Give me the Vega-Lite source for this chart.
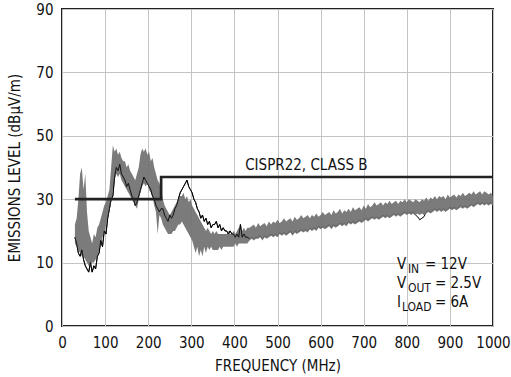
{
  "$schema": "https://vega.github.io/schema/vega-lite/v6.json",
  "width": 431,
  "height": 317,
  "autosize": {"type": "none"},
  "padding": {"left": 62, "top": 9, "right": 18, "bottom": 51},
  "background": "white",
  "config": {
    "view": {"stroke": "#222", "strokeWidth": 2},
    "font": "DejaVu Sans Condensed",
    "axis": {"labelFont": "DejaVu Sans Condensed", "titleFont": "DejaVu Sans Condensed", "labelFontSize": 15, "titleFontSize": 15, "titleFontWeight": "normal", "labelColor": "#111", "titleColor": "#111", "gridColor": "#c4c4c4", "gridWidth": 1, "gridOpacity": 1, "tickSize": 0, "domain": false}
  },
  "datasets": {
    "em": [
      {"f":30,"lo":16,"hi":22,"b":18},{"f":34,"lo":15,"hi":24,"b":16},{"f":38,"lo":14,"hi":30,"b":13},{"f":42,"lo":13,"hi":38,"b":12},
      {"f":46,"lo":12,"hi":40,"b":14},{"f":50,"lo":12,"hi":33,"b":11},{"f":54,"lo":11,"hi":38,"b":9},{"f":58,"lo":10,"hi":26,"b":8},
      {"f":62,"lo":9,"hi":20,"b":7},{"f":66,"lo":9,"hi":18,"b":10},{"f":70,"lo":10,"hi":16,"b":7},{"f":74,"lo":10,"hi":19,"b":9},
      {"f":78,"lo":11,"hi":18,"b":8},{"f":82,"lo":12,"hi":21,"b":12},{"f":86,"lo":14,"hi":22,"b":13},{"f":90,"lo":16,"hi":24,"b":17},
      {"f":94,"lo":18,"hi":26,"b":15},{"f":98,"lo":19,"hi":28,"b":20},{"f":102,"lo":22,"hi":29,"b":19},{"f":106,"lo":24,"hi":31,"b":24},
      {"f":110,"lo":26,"hi":33,"b":27},{"f":114,"lo":29,"hi":40,"b":30},{"f":118,"lo":33,"hi":47,"b":31},{"f":122,"lo":36,"hi":45,"b":37},
      {"f":126,"lo":38,"hi":46,"b":40},{"f":130,"lo":37,"hi":44,"b":39},{"f":134,"lo":38,"hi":45,"b":41},{"f":138,"lo":36,"hi":43,"b":38},
      {"f":142,"lo":35,"hi":42,"b":37},{"f":146,"lo":34,"hi":42,"b":36},{"f":150,"lo":33,"hi":40,"b":34},{"f":154,"lo":32,"hi":41,"b":35},
      {"f":158,"lo":31,"hi":39,"b":33},{"f":162,"lo":30,"hi":38,"b":31},{"f":166,"lo":29,"hi":37,"b":30},{"f":170,"lo":28,"hi":36,"b":28},
      {"f":174,"lo":27,"hi":38,"b":29},{"f":178,"lo":30,"hi":40,"b":31},{"f":182,"lo":32,"hi":44,"b":33},{"f":186,"lo":34,"hi":46,"b":35},
      {"f":190,"lo":35,"hi":45,"b":37},{"f":194,"lo":34,"hi":46,"b":36},{"f":198,"lo":35,"hi":44,"b":35},{"f":202,"lo":33,"hi":45,"b":34},
      {"f":206,"lo":32,"hi":42,"b":33},{"f":210,"lo":31,"hi":43,"b":31},{"f":214,"lo":28,"hi":40,"b":30},{"f":218,"lo":26,"hi":38,"b":28},
      {"f":222,"lo":19,"hi":36,"b":27},{"f":226,"lo":25,"hi":35,"b":26},{"f":230,"lo":24,"hi":33,"b":27},{"f":234,"lo":22,"hi":30,"b":27},
      {"f":238,"lo":21,"hi":28,"b":25},{"f":242,"lo":20,"hi":27,"b":24},{"f":246,"lo":19,"hi":26,"b":23},{"f":250,"lo":19,"hi":25,"b":25},
      {"f":254,"lo":19,"hi":26,"b":24},{"f":258,"lo":20,"hi":27,"b":25},{"f":262,"lo":20,"hi":28,"b":27},{"f":266,"lo":21,"hi":29,"b":28},
      {"f":270,"lo":22,"hi":30,"b":30},{"f":274,"lo":22,"hi":31,"b":32},{"f":278,"lo":23,"hi":31,"b":33},{"f":282,"lo":22,"hi":32,"b":34},
      {"f":286,"lo":21,"hi":30,"b":35},{"f":290,"lo":20,"hi":31,"b":36},{"f":294,"lo":19,"hi":29,"b":34},{"f":298,"lo":18,"hi":30,"b":33},
      {"f":302,"lo":17,"hi":28,"b":32},{"f":306,"lo":15,"hi":27,"b":30},{"f":310,"lo":13,"hi":26,"b":29},{"f":314,"lo":15,"hi":25,"b":27},
      {"f":318,"lo":12,"hi":24,"b":26},{"f":322,"lo":14,"hi":23,"b":24},{"f":326,"lo":12,"hi":22,"b":25},{"f":330,"lo":15,"hi":21,"b":23},
      {"f":334,"lo":13,"hi":20,"b":24},{"f":338,"lo":15,"hi":21,"b":22},{"f":342,"lo":14,"hi":20,"b":23},{"f":346,"lo":15,"hi":19,"b":21},
      {"f":350,"lo":14,"hi":20,"b":22},{"f":354,"lo":14,"hi":19,"b":22},{"f":358,"lo":14,"hi":20,"b":23},{"f":362,"lo":14,"hi":19,"b":21},
      {"f":366,"lo":15,"hi":19,"b":22},{"f":370,"lo":14,"hi":19,"b":20},{"f":374,"lo":15,"hi":19,"b":21},{"f":378,"lo":15,"hi":19,"b":20},
      {"f":382,"lo":15,"hi":19,"b":20},{"f":386,"lo":15,"hi":20,"b":19},{"f":390,"lo":15,"hi":19,"b":20},{"f":394,"lo":15,"hi":19,"b":19},
      {"f":398,"lo":15,"hi":20,"b":19},{"f":402,"lo":16,"hi":19,"b":18},{"f":406,"lo":15,"hi":20,"b":19},{"f":410,"lo":16,"hi":21,"b":18},
      {"f":414,"lo":16,"hi":20,"b":22},{"f":418,"lo":16,"hi":20,"b":18},{"f":422,"lo":16,"hi":21,"b":19},{"f":426,"lo":16,"hi":20,"b":18},
      {"f":430,"lo":16,"hi":21,"b":18},{"f":435,"lo":17,"hi":21,"b":17.5},
      {"f":440,"lo":17.5,"hi":21.5,"b":18},{"f":445,"lo":17,"hi":22,"b":17.5},{"f":450,"lo":17.5,"hi":21,"b":18},{"f":455,"lo":17.5,"hi":22.5,"b":18},
      {"f":460,"lo":18,"hi":21.5,"b":18.5},{"f":465,"lo":17,"hi":22,"b":17.5},{"f":470,"lo":18,"hi":22.5,"b":18.5},{"f":475,"lo":17.5,"hi":21.5,"b":18},
      {"f":480,"lo":18,"hi":23,"b":18.5},{"f":485,"lo":18.5,"hi":22,"b":19},{"f":490,"lo":18,"hi":23,"b":18.5},{"f":495,"lo":18.5,"hi":22.5,"b":19},
      {"f":500,"lo":18,"hi":23.5,"b":18.5},{"f":505,"lo":19,"hi":22.5,"b":19.5},{"f":510,"lo":18.5,"hi":23,"b":19},{"f":515,"lo":19,"hi":24,"b":19.5},
      {"f":520,"lo":18.5,"hi":23,"b":19},{"f":525,"lo":19,"hi":23.5,"b":19.5},{"f":530,"lo":19.5,"hi":24,"b":20},{"f":535,"lo":18.5,"hi":23,"b":19},
      {"f":540,"lo":19.5,"hi":24.5,"b":20},{"f":545,"lo":19,"hi":23.5,"b":19.5},{"f":550,"lo":19.5,"hi":24,"b":20},{"f":555,"lo":20,"hi":25,"b":20.5},
      {"f":560,"lo":19.5,"hi":24,"b":20},{"f":565,"lo":20,"hi":24.5,"b":20.5},{"f":570,"lo":19.5,"hi":25,"b":20},{"f":575,"lo":20.5,"hi":24,"b":21},
      {"f":580,"lo":20,"hi":25,"b":20.5},{"f":585,"lo":20.5,"hi":24.5,"b":21},{"f":590,"lo":20,"hi":25.5,"b":20.5},{"f":595,"lo":21,"hi":24.5,"b":21.5},
      {"f":600,"lo":20.5,"hi":25,"b":21},{"f":605,"lo":21,"hi":26,"b":21.5},{"f":610,"lo":20.5,"hi":25,"b":21},{"f":615,"lo":21,"hi":25.5,"b":21.5},
      {"f":620,"lo":21.5,"hi":26,"b":22},{"f":625,"lo":20.5,"hi":25,"b":21},{"f":630,"lo":21.5,"hi":26.5,"b":22},{"f":635,"lo":21,"hi":25.5,"b":21.5},
      {"f":640,"lo":21.5,"hi":26,"b":22},{"f":645,"lo":22,"hi":27,"b":22.5},{"f":650,"lo":21.5,"hi":25.5,"b":22},{"f":655,"lo":22,"hi":26.5,"b":22.5},
      {"f":660,"lo":21.5,"hi":26,"b":22},{"f":665,"lo":22.5,"hi":27,"b":23},{"f":670,"lo":22,"hi":26,"b":22.5},{"f":675,"lo":22.5,"hi":27.5,"b":23},
      {"f":680,"lo":22,"hi":26.5,"b":22.5},{"f":685,"lo":22.5,"hi":27,"b":23},{"f":690,"lo":23,"hi":27.5,"b":23.5},{"f":695,"lo":22.5,"hi":26.5,"b":23},
      {"f":700,"lo":23,"hi":28,"b":23.5},{"f":705,"lo":23.5,"hi":27,"b":24},{"f":710,"lo":23,"hi":28.5,"b":23.5},{"f":715,"lo":23.5,"hi":27.5,"b":24},
      {"f":720,"lo":24,"hi":28,"b":24.5},{"f":725,"lo":23.5,"hi":29,"b":24},{"f":730,"lo":24,"hi":28,"b":24.5},{"f":735,"lo":23.5,"hi":28.5,"b":24},
      {"f":740,"lo":24,"hi":29,"b":24.5},{"f":745,"lo":24.5,"hi":28,"b":25},{"f":750,"lo":24,"hi":29,"b":24.5},{"f":755,"lo":24.5,"hi":28.5,"b":25},
      {"f":760,"lo":24,"hi":29.5,"b":24.5},{"f":765,"lo":24.5,"hi":28.5,"b":25},{"f":770,"lo":25,"hi":29,"b":25.5},{"f":775,"lo":24.5,"hi":29.5,"b":25},
      {"f":780,"lo":25,"hi":28.5,"b":25.5},{"f":785,"lo":24.5,"hi":29.5,"b":25},{"f":790,"lo":25,"hi":29,"b":25.5},{"f":795,"lo":25.5,"hi":30,"b":26},
      {"f":800,"lo":25,"hi":29,"b":25.5},{"f":805,"lo":25.5,"hi":30,"b":26},{"f":810,"lo":25,"hi":29.5,"b":25.5},{"f":815,"lo":25.5,"hi":29,"b":26},
      {"f":820,"lo":25,"hi":30,"b":25},{"f":825,"lo":25.5,"hi":29.5,"b":24.5},{"f":830,"lo":25,"hi":29,"b":23.5},{"f":835,"lo":25.5,"hi":30,"b":24},
      {"f":840,"lo":25,"hi":29.5,"b":24.5},{"f":845,"lo":25.5,"hi":30.5,"b":26},{"f":850,"lo":26,"hi":29.5,"b":26.5},{"f":855,"lo":25.5,"hi":30.5,"b":26},
      {"f":860,"lo":26,"hi":30,"b":26.5},{"f":865,"lo":26.5,"hi":31,"b":27},{"f":870,"lo":26,"hi":30,"b":26.5},{"f":875,"lo":26.5,"hi":31,"b":27},
      {"f":880,"lo":26,"hi":30.5,"b":26.5},{"f":885,"lo":26.5,"hi":31,"b":27},{"f":890,"lo":26,"hi":30,"b":26.5},{"f":895,"lo":26.5,"hi":31.5,"b":27},
      {"f":900,"lo":27,"hi":30.5,"b":27.5},{"f":905,"lo":26.5,"hi":31,"b":27},{"f":910,"lo":27,"hi":31.5,"b":27.5},{"f":915,"lo":26.5,"hi":30.5,"b":27},
      {"f":920,"lo":27,"hi":31.5,"b":27.5},{"f":925,"lo":27.5,"hi":31,"b":28},{"f":930,"lo":27,"hi":32,"b":27.5},{"f":935,"lo":27.5,"hi":31,"b":28},
      {"f":940,"lo":27,"hi":31.5,"b":27.5},{"f":945,"lo":27.5,"hi":32,"b":28},{"f":950,"lo":28,"hi":31.5,"b":28.5},{"f":955,"lo":27.5,"hi":32.5,"b":28},
      {"f":960,"lo":28,"hi":31.5,"b":28.5},{"f":965,"lo":28.5,"hi":32,"b":29},{"f":970,"lo":28,"hi":32.5,"b":28.5},{"f":975,"lo":28.5,"hi":31.5,"b":29},
      {"f":980,"lo":28,"hi":32.5,"b":28.5},{"f":985,"lo":28.5,"hi":32,"b":29},{"f":990,"lo":28,"hi":31.5,"b":28.5},{"f":995,"lo":28.5,"hi":32,"b":29},
      {"f":1000,"lo":28,"hi":31,"b":28.5}
    ],
    "lim": [
      {"f":30,"v":30},{"f":230,"v":30},{"f":230,"v":37},{"f":1000,"v":37}
    ],
    "cispr": [{"f":425,"v":39.2,"t":"CISPR22, CLASS B"}],
    "notes": [
      {"id":"vin","f":777,"v":8.0,"base":"V","sub":"IN","rest":"= 12V"},
      {"id":"vout","f":777,"v":2.0,"base":"V","sub":"OUT","rest":"= 2.5V"},
      {"id":"iload","f":777,"v":-4.0,"base":"I","sub":"LOAD","rest":"= 6A"}
    ]
  },
  "layer": [
    {
      "data": {"name": "em"},
      "mark": {"type": "line", "color": "#000", "strokeWidth": 1},
      "encoding": {
        "x": {"field": "f", "type": "quantitative", "scale": {"domain": [0, 1000], "nice": false}, "title": "FREQUENCY (MHz)",
              "axis": {"values": [0,100,200,300,400,500,600,700,800,900,1000], "format": "d", "labelPadding": 9, "titlePadding": 8, "labelFlush": false}},
        "y": {"field": "b", "type": "quantitative", "scale": {"domain": [-10, 90], "nice": false, "zero": false}, "title": "EMISSIONS LEVEL (dBμV/m)",
              "axis": {"values": [-10,0,10,20,30,40,50,60,70,80,90], "labelPadding": 9, "titlePadding": 13,
                       "labelExpr": "datum.value == -10 ? '0' : (datum.value % 20 == 10 ? datum.label : '')"}}
      }
    },
    {
      "data": {"name": "em"},
      "mark": {"type": "area", "color": "#707070", "opacity": 0.92},
      "encoding": {
        "x": {"field": "f", "type": "quantitative"},
        "y": {"field": "lo", "type": "quantitative"},
        "y2": {"field": "hi"}
      }
    },
    {
      "data": {"name": "em"},
      "transform": [{"filter": "datum.f < 440"}],
      "mark": {"type": "line", "color": "#000", "strokeWidth": 0.8},
      "encoding": {
        "x": {"field": "f", "type": "quantitative"},
        "y": {"field": "b", "type": "quantitative"}
      }
    },
    {
      "data": {"name": "lim"},
      "mark": {"type": "line", "color": "#222", "strokeWidth": 2.7},
      "encoding": {
        "x": {"field": "f", "type": "quantitative"},
        "y": {"field": "v", "type": "quantitative"}
      }
    },
    {
      "data": {"name": "cispr"},
      "mark": {"type": "text", "align": "left", "baseline": "alphabetic", "fontSize": 15, "color": "#111"},
      "encoding": {
        "x": {"field": "f", "type": "quantitative"},
        "y": {"field": "v", "type": "quantitative"},
        "text": {"field": "t"}
      }
    },
    {
      "data": {"name": "notes"},
      "mark": {"type": "text", "align": "left", "baseline": "alphabetic", "fontSize": 15, "color": "#111"},
      "encoding": {
        "x": {"field": "f", "type": "quantitative"},
        "y": {"field": "v", "type": "quantitative"},
        "text": {"field": "base"}
      }
    },
    {
      "data": {"name": "notes"},
      "transform": [{"filter": "datum.id != 'iload'"}],
      "mark": {"type": "text", "align": "left", "baseline": "alphabetic", "fontSize": 12, "color": "#111", "dx": 11, "dy": 4},
      "encoding": {
        "x": {"field": "f", "type": "quantitative"},
        "y": {"field": "v", "type": "quantitative"},
        "text": {"field": "sub"}
      }
    },
    {
      "data": {"name": "notes"},
      "transform": [{"filter": "datum.id == 'iload'"}],
      "mark": {"type": "text", "align": "left", "baseline": "alphabetic", "fontSize": 12, "color": "#111", "dx": 5, "dy": 4},
      "encoding": {
        "x": {"field": "f", "type": "quantitative"},
        "y": {"field": "v", "type": "quantitative"},
        "text": {"field": "sub"}
      }
    },
    {
      "data": {"name": "notes"},
      "transform": [{"filter": "datum.id == 'vin'"}],
      "mark": {"type": "text", "align": "left", "baseline": "alphabetic", "fontSize": 15, "color": "#111", "dx": 28},
      "encoding": {
        "x": {"field": "f", "type": "quantitative"},
        "y": {"field": "v", "type": "quantitative"},
        "text": {"field": "rest"}
      }
    },
    {
      "data": {"name": "notes"},
      "transform": [{"filter": "datum.id != 'vin'"}],
      "mark": {"type": "text", "align": "left", "baseline": "alphabetic", "fontSize": 15, "color": "#111", "dx": 38},
      "encoding": {
        "x": {"field": "f", "type": "quantitative"},
        "y": {"field": "v", "type": "quantitative"},
        "text": {"field": "rest"}
      }
    }
  ]
}
